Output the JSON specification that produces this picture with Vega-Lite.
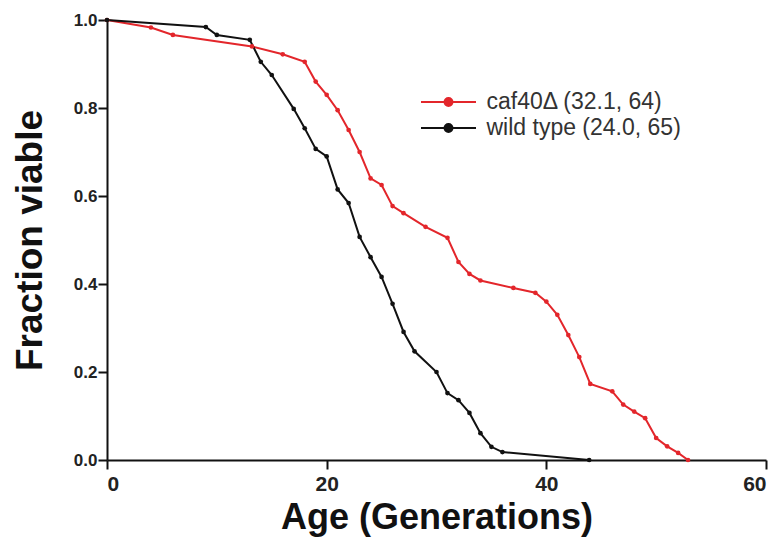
{
  "$schema": "https://vega.github.io/schema/vega-lite/v6.json",
  "autosize": "none",
  "width": 659,
  "height": 440,
  "padding": {"left": 107, "top": 20, "right": 15, "bottom": 89},
  "background": "white",
  "config": {"view": {"stroke": null}},
  "data": {"values": [
    {"strain": "caf40Δ (32.1, 64)", "age": 0, "frac": 1.0},
    {"strain": "caf40Δ (32.1, 64)", "age": 4, "frac": 0.983},
    {"strain": "caf40Δ (32.1, 64)", "age": 6, "frac": 0.966},
    {"strain": "caf40Δ (32.1, 64)", "age": 13.2, "frac": 0.94},
    {"strain": "caf40Δ (32.1, 64)", "age": 16, "frac": 0.922},
    {"strain": "caf40Δ (32.1, 64)", "age": 18, "frac": 0.905},
    {"strain": "caf40Δ (32.1, 64)", "age": 19, "frac": 0.86},
    {"strain": "caf40Δ (32.1, 64)", "age": 20, "frac": 0.83},
    {"strain": "caf40Δ (32.1, 64)", "age": 21, "frac": 0.795},
    {"strain": "caf40Δ (32.1, 64)", "age": 22, "frac": 0.75},
    {"strain": "caf40Δ (32.1, 64)", "age": 23, "frac": 0.70},
    {"strain": "caf40Δ (32.1, 64)", "age": 24, "frac": 0.64},
    {"strain": "caf40Δ (32.1, 64)", "age": 25, "frac": 0.625},
    {"strain": "caf40Δ (32.1, 64)", "age": 26, "frac": 0.577},
    {"strain": "caf40Δ (32.1, 64)", "age": 27, "frac": 0.561},
    {"strain": "caf40Δ (32.1, 64)", "age": 29, "frac": 0.53},
    {"strain": "caf40Δ (32.1, 64)", "age": 31, "frac": 0.505},
    {"strain": "caf40Δ (32.1, 64)", "age": 32, "frac": 0.45},
    {"strain": "caf40Δ (32.1, 64)", "age": 33, "frac": 0.423},
    {"strain": "caf40Δ (32.1, 64)", "age": 34, "frac": 0.408},
    {"strain": "caf40Δ (32.1, 64)", "age": 37, "frac": 0.391},
    {"strain": "caf40Δ (32.1, 64)", "age": 39, "frac": 0.38},
    {"strain": "caf40Δ (32.1, 64)", "age": 40, "frac": 0.36},
    {"strain": "caf40Δ (32.1, 64)", "age": 41, "frac": 0.33},
    {"strain": "caf40Δ (32.1, 64)", "age": 42, "frac": 0.284},
    {"strain": "caf40Δ (32.1, 64)", "age": 43, "frac": 0.234},
    {"strain": "caf40Δ (32.1, 64)", "age": 44, "frac": 0.173},
    {"strain": "caf40Δ (32.1, 64)", "age": 46, "frac": 0.156},
    {"strain": "caf40Δ (32.1, 64)", "age": 47, "frac": 0.126},
    {"strain": "caf40Δ (32.1, 64)", "age": 48, "frac": 0.11},
    {"strain": "caf40Δ (32.1, 64)", "age": 49, "frac": 0.095},
    {"strain": "caf40Δ (32.1, 64)", "age": 50, "frac": 0.05},
    {"strain": "caf40Δ (32.1, 64)", "age": 51, "frac": 0.031},
    {"strain": "caf40Δ (32.1, 64)", "age": 52, "frac": 0.016},
    {"strain": "caf40Δ (32.1, 64)", "age": 52.9, "frac": 0.0},
    {"strain": "wild type (24.0, 65)", "age": 0, "frac": 1.0},
    {"strain": "wild type (24.0, 65)", "age": 9, "frac": 0.984},
    {"strain": "wild type (24.0, 65)", "age": 10, "frac": 0.966},
    {"strain": "wild type (24.0, 65)", "age": 13, "frac": 0.955},
    {"strain": "wild type (24.0, 65)", "age": 14, "frac": 0.905},
    {"strain": "wild type (24.0, 65)", "age": 15, "frac": 0.875},
    {"strain": "wild type (24.0, 65)", "age": 17, "frac": 0.798},
    {"strain": "wild type (24.0, 65)", "age": 18, "frac": 0.754},
    {"strain": "wild type (24.0, 65)", "age": 19, "frac": 0.707},
    {"strain": "wild type (24.0, 65)", "age": 20, "frac": 0.69},
    {"strain": "wild type (24.0, 65)", "age": 21, "frac": 0.615},
    {"strain": "wild type (24.0, 65)", "age": 22, "frac": 0.584},
    {"strain": "wild type (24.0, 65)", "age": 23, "frac": 0.507},
    {"strain": "wild type (24.0, 65)", "age": 24, "frac": 0.461},
    {"strain": "wild type (24.0, 65)", "age": 25, "frac": 0.416},
    {"strain": "wild type (24.0, 65)", "age": 26, "frac": 0.355},
    {"strain": "wild type (24.0, 65)", "age": 27, "frac": 0.291},
    {"strain": "wild type (24.0, 65)", "age": 28, "frac": 0.247},
    {"strain": "wild type (24.0, 65)", "age": 30, "frac": 0.2},
    {"strain": "wild type (24.0, 65)", "age": 31, "frac": 0.152},
    {"strain": "wild type (24.0, 65)", "age": 32, "frac": 0.136},
    {"strain": "wild type (24.0, 65)", "age": 33, "frac": 0.107},
    {"strain": "wild type (24.0, 65)", "age": 34, "frac": 0.061},
    {"strain": "wild type (24.0, 65)", "age": 35, "frac": 0.03},
    {"strain": "wild type (24.0, 65)", "age": 36, "frac": 0.018},
    {"strain": "wild type (24.0, 65)", "age": 43.9, "frac": 0.0}
  ]},
  "mark": {"type": "line", "strokeWidth": 2, "point": {"filled": true, "size": 22}},
  "encoding": {
    "x": {"field": "age", "type": "quantitative",
      "scale": {"domain": [0, 60], "nice": false},
      "axis": {"values": [0, 20, 40, 60], "title": "Age (Generations)", "grid": false,
        "domainColor": "#111", "domainWidth": 2, "tickColor": "#111", "tickWidth": 2, "tickSize": 9,
        "labelFont": "Liberation Sans", "labelFontWeight": "bold", "labelFontSize": 21, "labelColor": "#222", "labelPadding": 4,
        "titleFont": "Liberation Sans", "titleFontWeight": "bold", "titleFontSize": 36, "titleColor": "#111", "titlePadding": 6}},
    "y": {"field": "frac", "type": "quantitative",
      "scale": {"domain": [0, 1], "nice": false},
      "axis": {"values": [0, 0.2, 0.4, 0.6, 0.8, 1.0], "format": ".1f", "title": "Fraction viable", "grid": false,
        "domainColor": "#111", "domainWidth": 2, "tickColor": "#111", "tickWidth": 2, "tickSize": 9,
        "labelFont": "Liberation Sans", "labelFontWeight": "bold", "labelFontSize": 17, "labelColor": "#222", "labelPadding": 1,
        "titleFont": "Liberation Sans", "titleFontWeight": "bold", "titleFontSize": 37, "titleColor": "#111", "titlePadding": 24}},
    "color": {"field": "strain", "type": "nominal",
      "scale": {"domain": ["caf40Δ (32.1, 64)", "wild type (24.0, 65)"], "range": ["#e3262b", "#111111"]},
      "legend": {"title": null, "orient": "none", "legendX": 329.5, "legendY": 70,
        "symbolType": "M-2.5,0L2.5,0M-0.36,0A0.36,0.36 0 1,0 0.36,0A0.36,0.36 0 1,0 -0.36,0",
        "symbolSize": 484, "symbolStrokeWidth": 2, "rowPadding": 2, "labelLimit": 400,
        "labelFont": "Liberation Sans", "labelFontSize": 23, "labelColor": "#333", "labelOffset": 26}}
  }
}
